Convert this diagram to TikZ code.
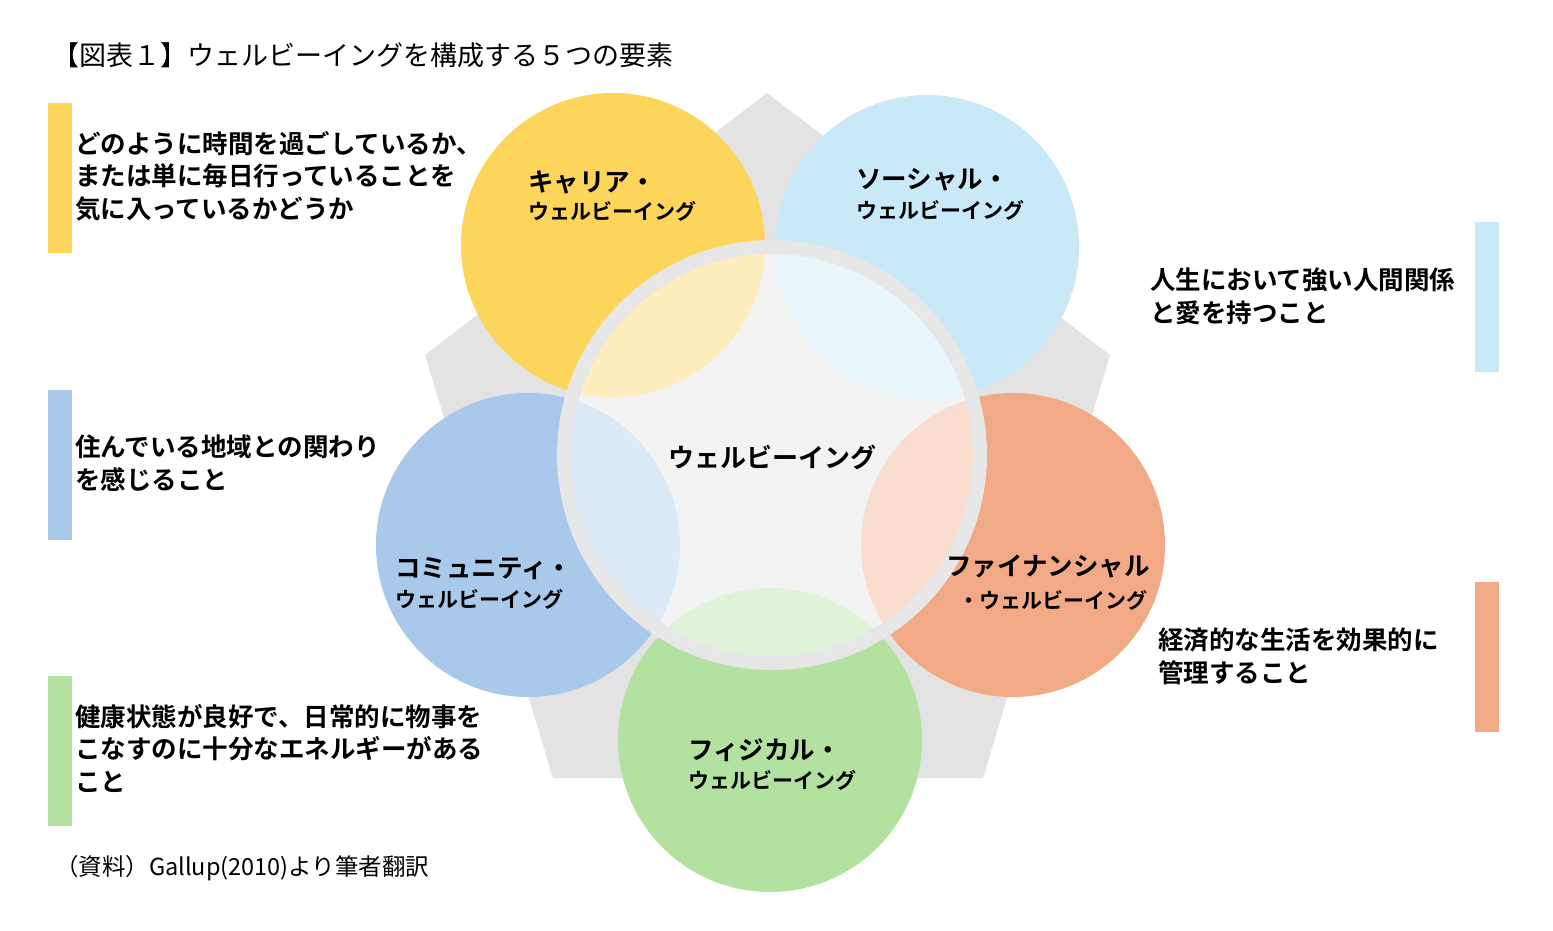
\documentclass[tikz,border=0pt]{standalone}
\usepackage{fontspec}
\newfontfamily\jp{Noto Sans CJK JP}
\newfontfamily\jpb{Noto Sans CJK JP Bold}
\definecolor{cyel}{HTML}{FDD55A}
\definecolor{csky}{HTML}{C9E9F8}
\definecolor{cora}{HTML}{F2AA86}
\definecolor{cgrn}{HTML}{B3E2A0}
\definecolor{cblu}{HTML}{A9C9EA}
\definecolor{cpent}{HTML}{E3E3E3}
\begin{document}
\begin{tikzpicture}[x=1pt,y=-1pt,
  circ/.style={circle,minimum size=304pt,inner sep=0pt},
  lab/.style={font=\jpb\fontsize{25.5}{27}\selectfont,align=left,inner sep=0pt},
  sub/.style={font=\jpb\fontsize{21}{22}\selectfont,inner sep=0pt},
  desc/.style={font=\jpb\fontsize{25.5}{32.5}\selectfont,align=left,anchor=north west,inner sep=0pt},
  bar/.style={minimum width=24pt,minimum height=150pt,inner sep=0pt,anchor=north west}]
\useasboundingbox (0,0) rectangle (1553,930);
\fill[white] (0,0) rectangle (1553,930);
\node[font=\jp\fontsize{27}{28}\selectfont,anchor=west,inner sep=0pt] (title) at (52,55) {【図表１】ウェルビーイングを構成する５つの要素};
\fill[cpent] (767,93) -- (1110,355) -- (983,778) -- (553,778) -- (425,355) -- cycle;
\node[circ,fill=cyel] (car) at (613,245) {};
\node[circ,fill=csky] (soc) at (927,247) {};
\node[circ,fill=cora] (fin) at (1013,545) {};
\node[circ,fill=cgrn] (phy) at (770,740) {};
\node[circ,fill=cblu] (com) at (528,545) {};
\fill[white,opacity=0.6] (772,455) circle (208);
\draw[draw=cpent!85,line width=14pt] (772,455) circle (208);
\node[font=\jpb\fontsize{26}{27}\selectfont] (wb) at (772,457) {ウェルビーイング};
\node[lab,anchor=west] (carl) at (528,182) {キャリア・};
\node[sub,anchor=west] (cars) at (528,211) {ウェルビーイング};
\node[lab,anchor=west] (socl) at (856,180) {ソーシャル・};
\node[sub,anchor=west] (socs) at (856,210) {ウェルビーイング};
\node[lab,anchor=west] (coml) at (395,569) {コミュニティ・};
\node[sub,anchor=west] (coms) at (395,599) {ウェルビーイング};
\node[lab,anchor=west] (finl) at (946,566) {ファイナンシャル};
\node[sub,anchor=west] (fins) at (958,600) {・ウェルビーイング};
\node[lab,anchor=west] (phyl) at (688,750) {フィジカル・};
\node[sub,anchor=west] (phys) at (688,780) {ウェルビーイング};
\node[bar,fill=cyel] (b1) at (48,103) {};
\node[bar,fill=cblu] (b2) at (48,390) {};
\node[bar,fill=cgrn] (b3) at (48,676) {};
\node[bar,fill=csky] (b4) at (1475,222) {};
\node[bar,fill=cora] (b5) at (1475,582) {};
\node[desc] (d1) at (75,131) {どのように時間を過ごしているか、\\または単に毎日行っていることを\\気に入っているかどうか};
\node[desc] (d2) at (75,435) {住んでいる地域との関わり\\を感じること};
\node[desc] (d3) at (75,704) {健康状態が良好で、日常的に物事を\\こなすのに十分なエネルギーがある\\こと};
\node[desc] (d4) at (1150,268) {人生において強い人間関係\\と愛を持つこと};
\node[desc] (d5) at (1158,628) {経済的な生活を効果的に\\管理すること};
\node[font=\jp\fontsize{23.5}{24}\selectfont,anchor=west,inner sep=0pt] (src) at (55,868) {（資料）Gallup(2010)より筆者翻訳};
\end{tikzpicture}
\end{document}
